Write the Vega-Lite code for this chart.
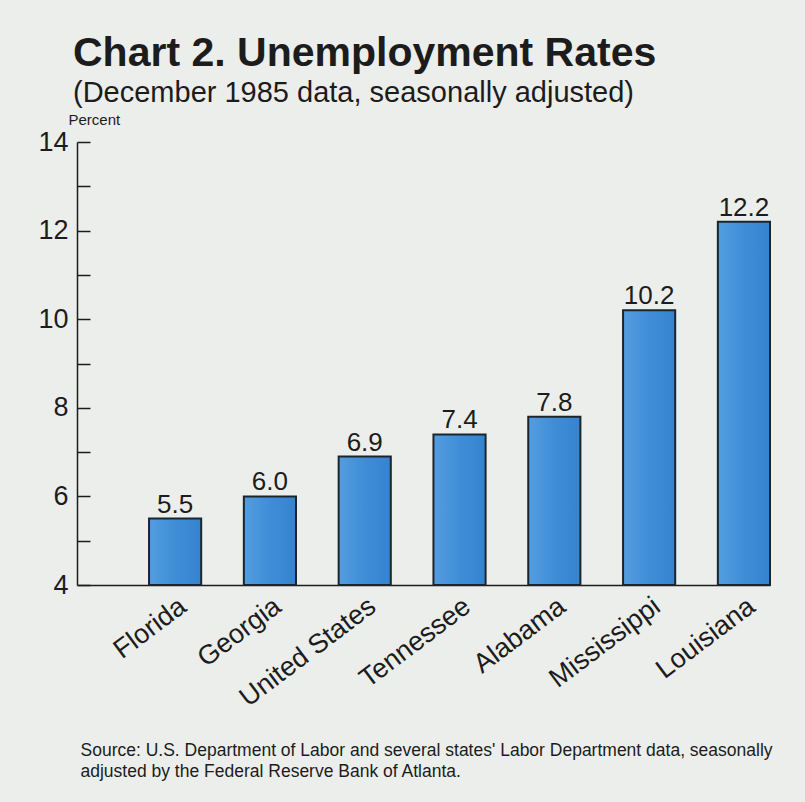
{
  "$schema": "https://vega.github.io/schema/vega-lite/v6.json",
  "width": 693,
  "height": 443,
  "autosize": "none",
  "padding": {"left": 77, "top": 142, "right": 35, "bottom": 217},
  "background": "#eceeeb",
  "title": {
    "text": "Chart 2. Unemployment Rates",
    "subtitle": "(December 1985 data, seasonally adjusted)",
    "anchor": "start",
    "frame": "group",
    "dx": -4,
    "offset": 3,
    "font": "Liberation Sans",
    "fontSize": 41,
    "fontWeight": "bold",
    "color": "#1c1c1c",
    "subtitleFont": "Liberation Sans",
    "subtitleFontSize": 29,
    "subtitleColor": "#1c1c1c",
    "subtitlePadding": 4
  },
  "data": {
    "values": [
      {"area": "Florida", "rate": 5.5, "label": "5.5"},
      {"area": "Georgia", "rate": 6.0, "label": "6.0"},
      {"area": "United States", "rate": 6.9, "label": "6.9"},
      {"area": "Tennessee", "rate": 7.4, "label": "7.4"},
      {"area": "Alabama", "rate": 7.8, "label": "7.8"},
      {"area": "Mississippi", "rate": 10.2, "label": "10.2"},
      {"area": "Louisiana", "rate": 12.2, "label": "12.2"}
    ]
  },
  "encoding": {
    "x": {
      "field": "area",
      "type": "nominal",
      "sort": null,
      "scale": {"paddingInner": 0.45, "paddingOuter": 0.38, "align": 1},
      "axis": {
        "title": ["Source: U.S. Department of Labor and several states' Labor Department data, seasonally", "adjusted by the Federal Reserve Bank of Atlanta."],
        "titleFont": "Liberation Sans",
        "titleFontSize": 17.5,
        "titleFontWeight": "normal",
        "titleColor": "#1c1c1c",
        "titleAlign": "left",
        "titleAnchor": "start",
        "titleBaseline": "alphabetic",
        "titleLineHeight": 21,
        "titleX": 3,
        "titleY": 170,
        "labelAngle": -37,
        "labelAlign": "right",
        "labelBaseline": "middle",
        "labelOffset": 8,
        "labelPadding": 18,
        "labelFont": "Liberation Sans",
        "labelFontSize": 27,
        "labelColor": "#1c1c1c",
        "ticks": false,
        "domainColor": "#1c1c1c",
        "domainWidth": 1.5,
        "grid": false
      }
    },
    "y": {
      "field": "rate",
      "type": "quantitative",
      "scale": {"domain": [4, 14], "zero": false, "nice": false},
      "axis": {
        "title": "Percent",
        "titleAngle": 0,
        "titleAlign": "left",
        "titleBaseline": "alphabetic",
        "titleX": -9,
        "titleY": -18,
        "titleFont": "Liberation Sans",
        "titleFontSize": 15,
        "titleFontWeight": "normal",
        "titleColor": "#1c1c1c",
        "values": [4, 5, 6, 7, 8, 9, 10, 11, 12, 13, 14],
        "labelExpr": "datum.value % 2 === 0 ? datum.label : ''",
        "labelFont": "Liberation Sans",
        "labelFontSize": 27,
        "labelColor": "#1c1c1c",
        "labelPadding": 22,
        "tickSize": -13,
        "tickColor": "#1c1c1c",
        "tickWidth": 1.5,
        "domainColor": "#1c1c1c",
        "domainWidth": 1.5,
        "grid": false
      }
    }
  },
  "layer": [
    {
      "mark": {
        "type": "bar",
        "stroke": "#1d252c",
        "strokeWidth": 2,
        "color": {
          "gradient": "linear",
          "x1": 0, "y1": 0, "x2": 1, "y2": 0,
          "stops": [
            {"offset": 0, "color": "#549ddf"},
            {"offset": 0.5, "color": "#408dd7"},
            {"offset": 1, "color": "#3583cf"}
          ]
        }
      },
      "encoding": {"y2": {"datum": 4}}
    },
    {
      "mark": {
        "type": "text",
        "baseline": "alphabetic",
        "dy": -6,
        "font": "Liberation Sans",
        "fontSize": 26,
        "color": "#1c1c1c"
      },
      "encoding": {"text": {"field": "label"}}
    }
  ],
  "config": {"view": {"stroke": null}}
}
